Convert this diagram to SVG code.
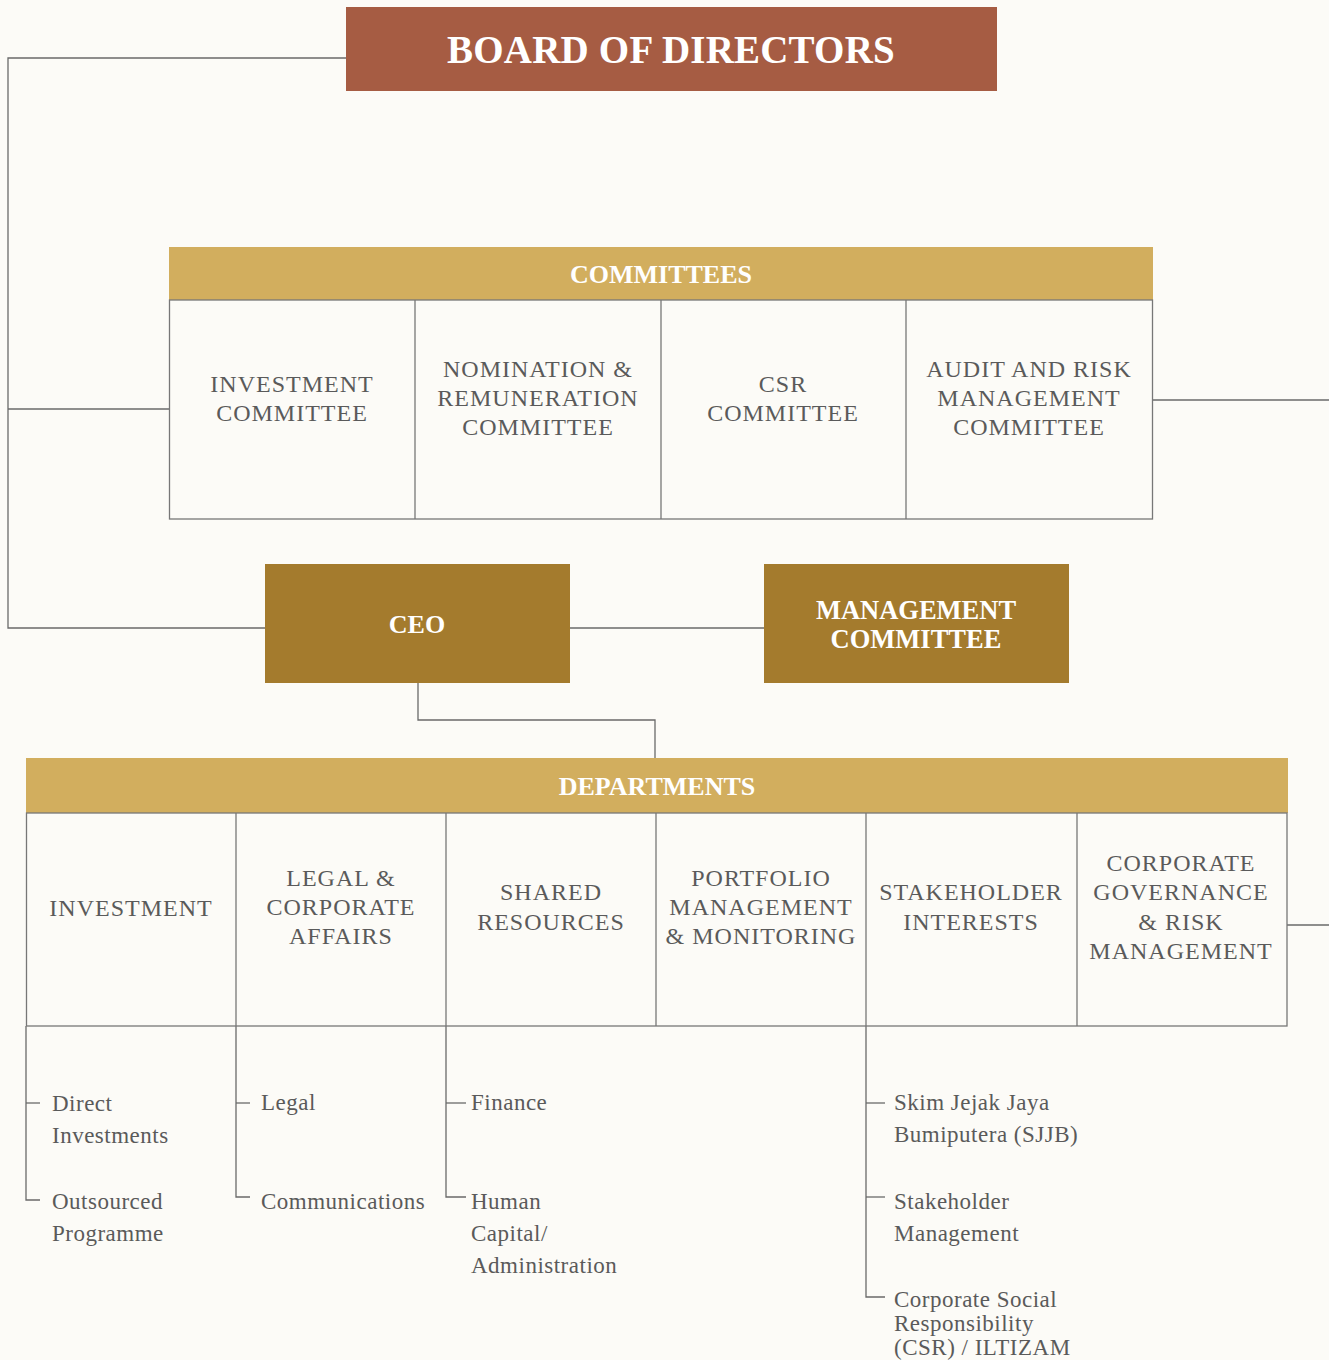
<svg xmlns="http://www.w3.org/2000/svg" width="1329" height="1360" viewBox="0 0 1329 1360">
<style>
.bg{fill:#FCFBF7}
.ln{fill:none;stroke:#6a6a6a;stroke-width:1.3}
.box{fill:none;stroke:#777;stroke-width:1.3}
.title{font-family:"Liberation Serif",serif;font-weight:bold;fill:#fff;text-anchor:middle}
.cap{font-family:"Liberation Serif",serif;fill:#5a5a5a;font-size:24px;letter-spacing:1px;text-anchor:middle}
.sub{font-family:"Liberation Serif",serif;fill:#5a5a5a;font-size:23px;letter-spacing:0.5px}
</style>
<rect class="bg" x="0" y="0" width="1329" height="1360"/>

<g id="connectors">
  <polyline class="ln" points="346,58 8,58 8,628 265,628"/>
  <line class="ln" x1="8" y1="409" x2="169" y2="409"/>
  <line class="ln" x1="1153" y1="400" x2="1329" y2="400"/>
  <line class="ln" x1="570" y1="628" x2="764" y2="628"/>
  <polyline class="ln" points="418,683 418,720 655,720 655,758"/>
  <line class="ln" x1="1287" y1="925" x2="1329" y2="925"/>
  <polyline class="ln" points="26,1026 26,1200 40,1200"/>
  <line class="ln" x1="26" y1="1103" x2="40" y2="1103"/>
  <polyline class="ln" points="236,1026 236,1197 250,1197"/>
  <line class="ln" x1="236" y1="1103" x2="250" y2="1103"/>
  <polyline class="ln" points="446,1026 446,1197 466,1197"/>
  <line class="ln" x1="446" y1="1103" x2="466" y2="1103"/>
  <polyline class="ln" points="866,1026 866,1297 885,1297"/>
  <line class="ln" x1="866" y1="1103" x2="885" y2="1103"/>
  <line class="ln" x1="866" y1="1197" x2="885" y2="1197"/>
</g>

<g id="board">
  <rect x="346" y="7" width="651" height="84" fill="#A65C43"/>
  <text class="title" x="671" y="63" font-size="39" letter-spacing="0.2">BOARD OF DIRECTORS</text>
</g>

<g id="committees">
  <rect x="169" y="247" width="984" height="53" fill="#D2AE5E"/>
  <text class="title" x="661" y="283" font-size="26">COMMITTEES</text>
  <rect class="box" x="169.5" y="300" width="983" height="219"/>
  <line class="box" x1="415" y1="300" x2="415" y2="519"/>
  <line class="box" x1="661" y1="300" x2="661" y2="519"/>
  <line class="box" x1="906" y1="300" x2="906" y2="519"/>
</g>
<g id="investment-committee">
  <text class="cap" x="292" y="392">INVESTMENT</text>
  <text class="cap" x="292" y="421">COMMITTEE</text>
</g>
<g id="nomination-committee">
  <text class="cap" x="538" y="377">NOMINATION &amp;</text>
  <text class="cap" x="538" y="406">REMUNERATION</text>
  <text class="cap" x="538" y="435">COMMITTEE</text>
</g>
<g id="csr-committee">
  <text class="cap" x="783" y="392">CSR</text>
  <text class="cap" x="783" y="421">COMMITTEE</text>
</g>
<g id="audit-committee">
  <text class="cap" x="1029" y="377">AUDIT AND RISK</text>
  <text class="cap" x="1029" y="406">MANAGEMENT</text>
  <text class="cap" x="1029" y="435">COMMITTEE</text>
</g>

<g id="ceo">
  <rect x="265" y="564" width="305" height="119" fill="#A47B2D"/>
  <text class="title" x="417" y="633" font-size="26">CEO</text>
</g>
<g id="management-committee">
  <rect x="764" y="564" width="305" height="119" fill="#A47B2D"/>
  <text class="title" x="916" y="619" font-size="26.5">MANAGEMENT</text>
  <text class="title" x="916" y="648" font-size="26.5">COMMITTEE</text>
</g>

<g id="departments">
  <rect x="26" y="758" width="1262" height="55" fill="#D2AE5E"/>
  <text class="title" x="657" y="795" font-size="26">DEPARTMENTS</text>
  <rect class="box" x="26.5" y="813" width="1260.5" height="213"/>
  <line class="box" x1="236" y1="813" x2="236" y2="1026"/>
  <line class="box" x1="446" y1="813" x2="446" y2="1026"/>
  <line class="box" x1="656" y1="813" x2="656" y2="1026"/>
  <line class="box" x1="866" y1="813" x2="866" y2="1026"/>
  <line class="box" x1="1077" y1="813" x2="1077" y2="1026"/>
</g>
<g id="dept-investment">
  <text class="cap" x="131" y="916">INVESTMENT</text>
</g>
<g id="dept-legal">
  <text class="cap" x="341" y="886">LEGAL &amp;</text>
  <text class="cap" x="341" y="915">CORPORATE</text>
  <text class="cap" x="341" y="944">AFFAIRS</text>
</g>
<g id="dept-shared">
  <text class="cap" x="551" y="900">SHARED</text>
  <text class="cap" x="551" y="930">RESOURCES</text>
</g>
<g id="dept-portfolio">
  <text class="cap" x="761" y="886">PORTFOLIO</text>
  <text class="cap" x="761" y="915">MANAGEMENT</text>
  <text class="cap" x="761" y="944">&amp; MONITORING</text>
</g>
<g id="dept-stakeholder">
  <text class="cap" x="971" y="900">STAKEHOLDER</text>
  <text class="cap" x="971" y="930">INTERESTS</text>
</g>
<g id="dept-governance">
  <text class="cap" x="1181" y="871">CORPORATE</text>
  <text class="cap" x="1181" y="900">GOVERNANCE</text>
  <text class="cap" x="1181" y="930">&amp; RISK</text>
  <text class="cap" x="1181" y="959">MANAGEMENT</text>
</g>

<g id="sub-direct"><text class="sub" x="52" y="1111">Direct</text><text class="sub" x="52" y="1143">Investments</text></g>
<g id="sub-outsourced"><text class="sub" x="52" y="1209">Outsourced</text><text class="sub" x="52" y="1241">Programme</text></g>
<g id="sub-legal"><text class="sub" x="261" y="1110">Legal</text></g>
<g id="sub-communications"><text class="sub" x="261" y="1209">Communications</text></g>
<g id="sub-finance"><text class="sub" x="471" y="1110">Finance</text></g>
<g id="sub-hc"><text class="sub" x="471" y="1209">Human</text><text class="sub" x="471" y="1241">Capital/</text><text class="sub" x="471" y="1273">Administration</text></g>
<g id="sub-sjjb"><text class="sub" x="894" y="1110">Skim Jejak Jaya</text><text class="sub" x="894" y="1142">Bumiputera (SJJB)</text></g>
<g id="sub-stakeholder"><text class="sub" x="894" y="1209">Stakeholder</text><text class="sub" x="894" y="1241">Management</text></g>
<g id="sub-csr"><text class="sub" x="894" y="1307">Corporate Social</text><text class="sub" x="894" y="1331">Responsibility</text><text class="sub" x="894" y="1355">(CSR) / ILTIZAM</text></g>
</svg>
